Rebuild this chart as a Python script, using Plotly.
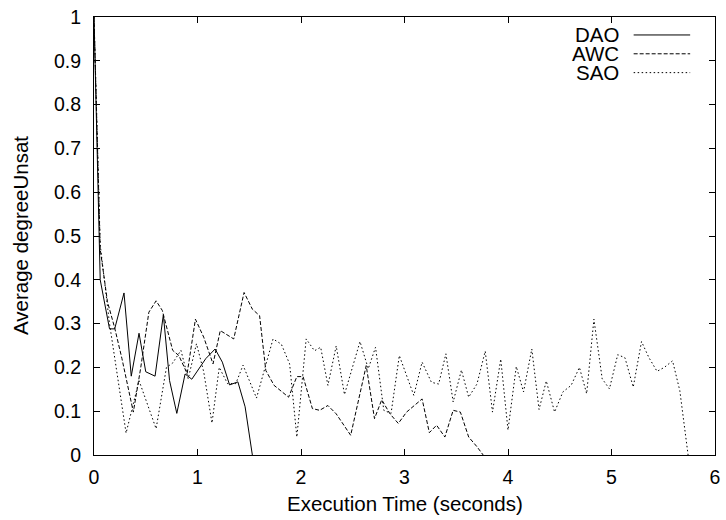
import plotly.graph_objects as go

# ---- data ----
dao_x = [0, 0.06, 0.15, 0.2, 0.29, 0.36, 0.435, 0.5, 0.59, 0.67, 0.73, 0.8, 0.88, 0.945,
         1.08, 1.17, 1.24, 1.31, 1.39, 1.46, 1.53]
dao_y = [1, 0.40, 0.288, 0.288, 0.37, 0.18, 0.278, 0.19, 0.18, 0.32, 0.17, 0.095, 0.185, 0.173,
         0.22, 0.242, 0.212, 0.16, 0.167, 0.11, 0]

awc_x = [0, 0.06, 0.13, 0.2, 0.27, 0.38, 0.45, 0.53, 0.6, 0.66, 0.76, 0.82, 0.9, 0.98, 1.06,
         1.15, 1.22, 1.35, 1.45, 1.53, 1.6, 1.66, 1.74, 1.88, 1.96, 2.02, 2.11, 2.18, 2.26,
         2.34, 2.48, 2.63, 2.71, 2.78, 2.86, 2.94, 3.02, 3.17, 3.24, 3.31, 3.39, 3.47, 3.54,
         3.62, 3.7, 3.76]
awc_y = [1, 0.47, 0.35, 0.29, 0.22, 0.098, 0.197, 0.326, 0.352, 0.33, 0.239, 0.227, 0.186, 0.31,
         0.269, 0.208, 0.284, 0.265, 0.371, 0.333, 0.318, 0.193, 0.159, 0.132, 0.179, 0.179,
         0.106, 0.102, 0.113, 0.094, 0.045, 0.204, 0.083, 0.126, 0.094, 0.072, 0.098, 0.128,
         0.051, 0.068, 0.041, 0.102, 0.098, 0.041, 0.019, 0]

sao_x = [0, 0.06, 0.15, 0.31, 0.435, 0.6, 0.7, 0.76, 0.84, 0.91, 0.99, 1.06, 1.14, 1.21, 1.29,
         1.37, 1.44, 1.57, 1.73, 1.81, 1.89, 1.96, 2.05, 2.13, 2.19, 2.26, 2.34, 2.42, 2.57,
         2.65, 2.72, 2.8, 2.87, 2.95, 3.09, 3.17, 3.26, 3.33, 3.4, 3.47, 3.55, 3.62, 3.7, 3.78,
         3.85, 3.93, 4.0, 4.08, 4.15, 4.23, 4.3, 4.37, 4.45, 4.53, 4.61, 4.69, 4.76, 4.83,
         4.91, 4.98, 5.06, 5.13, 5.21, 5.29, 5.36, 5.44, 5.51, 5.59, 5.66, 5.74]
sao_y = [1, 0.48, 0.3, 0.05, 0.17, 0.06, 0.2, 0.21, 0.239, 0.174, 0.254, 0.19, 0.073, 0.2, 0.163,
         0.163, 0.205, 0.13, 0.265, 0.253, 0.208, 0.041, 0.265, 0.238, 0.246, 0.159, 0.249,
         0.138, 0.259, 0.197, 0.246, 0.102, 0.095, 0.227, 0.136, 0.212, 0.166, 0.162, 0.231,
         0.121, 0.194, 0.132, 0.162, 0.237, 0.098, 0.219, 0.057, 0.202, 0.144, 0.242, 0.104,
         0.169, 0.098, 0.144, 0.159, 0.2, 0.14, 0.31, 0.174, 0.151, 0.229, 0.222, 0.155,
         0.259, 0.223, 0.191, 0.2, 0.215, 0.147, 0]

series_names = ["DAO", "AWC", "SAO"]
series_dash = ["solid", "4px,2px", "1.5px,2.5px"]

FONT = "Liberation Sans, Arial, Helvetica, sans-serif"
FS_TITLE = 20.5
FS_TICK = 19.5

fig = go.Figure()
for name, xs, ys, dash in zip(series_names, [dao_x, awc_x, sao_x], [dao_y, awc_y, sao_y], series_dash):
    fig.add_trace(go.Scatter(x=xs, y=ys, mode="lines", name=name,
                             line=dict(color="black", width=1, dash=dash),
                             showlegend=False))

# legend (gnuplot style: text then sample)
leg_y = [0.959, 0.916, 0.873]
for name, dash, ly in zip(series_names, series_dash, leg_y):
    fig.add_annotation(x=0.849, y=ly, xref="paper", yref="paper", text=name,
                       showarrow=False, xanchor="right", yanchor="middle",
                       font=dict(family=FONT, size=FS_TITLE, color="black"))
    fig.add_shape(type="line", xref="paper", yref="paper", x0=0.869, x1=0.96, y0=ly, y1=ly,
                  line=dict(color="black", width=1, dash=dash))

fig.add_annotation(x=0.5, y=0, xref="paper", yref="paper", text="Execution Time (seconds)",
                   showarrow=False, xanchor="center", yanchor="middle", yshift=-48,
                   font=dict(family=FONT, size=FS_TITLE, color="black"))
fig.add_annotation(x=0, y=0.5, xref="paper", yref="paper", text="Average degreeUnsat",
                   showarrow=False, xanchor="center", yanchor="middle", xshift=-74,
                   textangle=-90, font=dict(family=FONT, size=FS_TITLE, color="black"))

axis_common = dict(showline=True, linecolor="black", linewidth=1, mirror="allticks",
                   ticks="inside", ticklen=6, tickcolor="black", tickwidth=1,
                   showgrid=False, zeroline=False,
                   tickfont=dict(family=FONT, size=FS_TICK, color="black"))
fig.update_xaxes(range=[0, 6], dtick=1, tick0=0, ticklabelstandoff=5, **axis_common)
fig.update_yaxes(range=[0, 1], dtick=0.1, tick0=0, ticklabelstandoff=8, **axis_common)

fig.update_layout(width=726, height=520, margin=dict(l=94, r=6, t=14, b=65),
                  plot_bgcolor="white", paper_bgcolor="white",
                  font=dict(family=FONT, size=FS_TICK, color="black"))

fig.write_html("out.html", config={"displayModeBar": False},
               post_script="document.body.style.margin='0px';document.body.style.overflow='hidden';")
